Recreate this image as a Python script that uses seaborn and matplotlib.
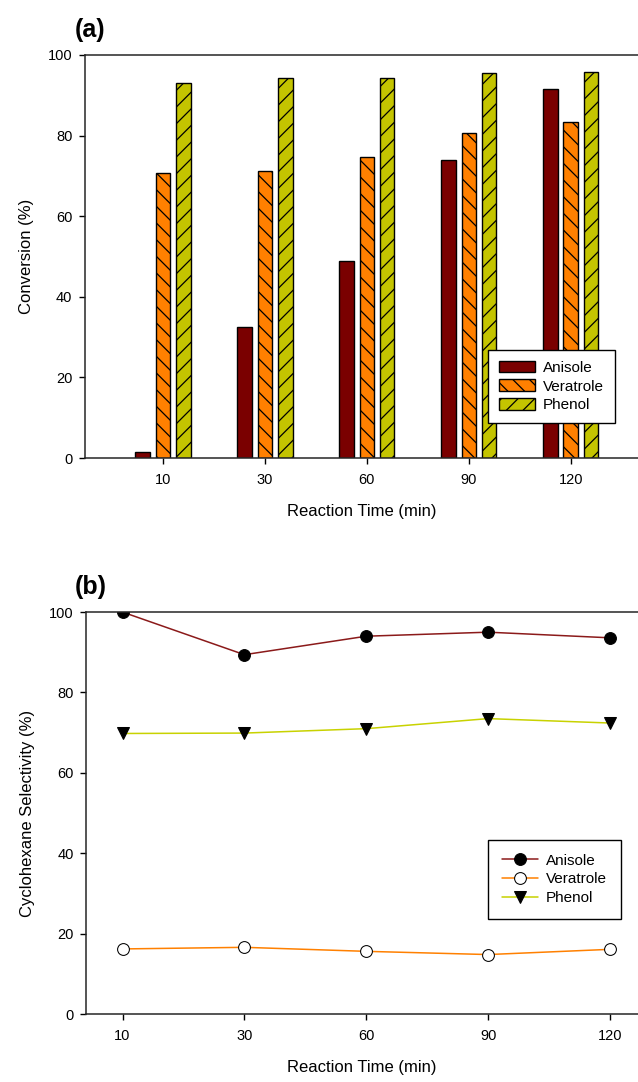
import matplotlib
matplotlib.use("Agg")
import matplotlib.pyplot as plt
import seaborn as sns
import pandas as pd

# data
times = ["10", "30", "60", "90", "120"]
species = ["Anisole", "Veratrole", "Phenol"]

conv_anisole = [1.5, 32.5, 49.0, 74.0, 91.5]
conv_veratrole = [70.8, 71.2, 74.6, 80.7, 83.3]
conv_phenol = [93.0, 94.2, 94.4, 95.5, 95.7]

sel_anisole = [100.0, 89.4, 94.0, 95.0, 93.6]
sel_veratrole = [16.2, 16.6, 15.6, 14.8, 16.1]
sel_phenol = [69.8, 69.9, 71.0, 73.5, 72.4]

bar_colors = ["#7a0000", "#ff8000", "#c4c400"]
line_colors = ["#8b1a1a", "#ff8000", "#c8d200"]
hatches = ["", "\\\\", "//"]

sns.set_style("ticks")
plt.rcParams["font.family"] = ["Liberation Sans", "DejaVu Sans"]
plt.rcParams["hatch.linewidth"] = 0.9
plt.rcParams["axes.linewidth"] = 1.1
plt.rcParams["text.color"] = "black"
plt.rcParams["axes.labelcolor"] = "black"
plt.rcParams["xtick.color"] = "black"
plt.rcParams["ytick.color"] = "black"

fig = plt.figure(figsize=(6.38, 10.82), dpi=100)
ax1 = fig.add_axes([0.1332, 0.5767, 0.8668, 0.3725])
ax2 = fig.add_axes([0.1348, 0.0628, 0.8652, 0.3715])

# (a) conversion bars
df_conv = pd.DataFrame({
    "time": times * 3,
    "species": [s for s in species for _ in times],
    "value": conv_anisole + conv_veratrole + conv_phenol,
})
sns.barplot(data=df_conv, x="time", y="value", hue="species", order=times,
            hue_order=species, palette=bar_colors, width=0.6, gap=0.29,
            edgecolor="black", linewidth=1.0, saturation=1, ax=ax1)
for cont, h in zip(ax1.containers, hatches):
    for p in cont:
        p.set_hatch(h)

ax1.set_xlim(-0.765, 4.66)
ax1.set_ylim(0, 100)
ax1.set_yticks([0, 20, 40, 60, 80, 100])
ax1.set_xlabel("Reaction Time (min)", fontsize=12, labelpad=12)
ax1.set_ylabel("Conversion (%)", fontsize=12, labelpad=10)
leg1 = ax1.legend(loc="upper left", bbox_to_anchor=(0.7288, 0.268),
                  borderaxespad=0, fontsize=11, frameon=True, fancybox=False,
                  framealpha=1, edgecolor="black", handlelength=2.4,
                  handleheight=0.8, labelspacing=0.3, borderpad=0.7,
                  handletextpad=0.5)
leg1.get_frame().set_linewidth(1.0)
for hp, h in zip(leg1.legend_handles, hatches):
    hp.set_hatch(h)

# (b) selectivity lines
x_pos = list(range(len(times)))
sns.lineplot(x=x_pos, y=sel_anisole, color=line_colors[0], marker="o",
             markersize=8.5, markerfacecolor="black", markeredgecolor="black",
             linewidth=1.1, label="Anisole", ax=ax2)
sns.lineplot(x=x_pos, y=sel_veratrole, color=line_colors[1], marker="o",
             markersize=8.5, markerfacecolor="white", markeredgecolor="black",
             linewidth=1.1, label="Veratrole", ax=ax2)
sns.lineplot(x=x_pos, y=sel_phenol, color=line_colors[2], marker="v",
             markersize=8, markerfacecolor="black", markeredgecolor="black",
             linewidth=1.1, label="Phenol", ax=ax2)

ax2.set_xlim(-0.30, 4.23)
ax2.set_ylim(0, 100)
ax2.set_yticks([0, 20, 40, 60, 80, 100])
ax2.set_xticks(x_pos)
ax2.set_xticklabels(times)
ax2.set_xlabel("Reaction Time (min)", fontsize=12, labelpad=12)
ax2.set_ylabel("Cyclohexane Selectivity (%)", fontsize=12, labelpad=10)
leg2 = ax2.legend(loc="upper left", bbox_to_anchor=(0.7283, 0.4328),
                  borderaxespad=0, fontsize=11, frameon=True, fancybox=False,
                  framealpha=1, edgecolor="black", handlelength=2.4,
                  labelspacing=0.3, borderpad=0.9, handletextpad=0.5)
leg2.get_frame().set_linewidth(1.0)

for ax in (ax1, ax2):
    ax.spines["right"].set_visible(False)
    ax.spines["top"].set_visible(True)
    ax.tick_params(axis="both", direction="out", length=4, width=1,
                   labelsize=10.5, color="black")
    ax.tick_params(axis="x", pad=7)
    ax.tick_params(axis="y", pad=5)
    ax.set_facecolor("white")

fig.text(0.1176, 0.972, "(a)", fontsize=18, fontweight="bold", va="center")
fig.text(0.1176, 0.4575, "(b)", fontsize=18, fontweight="bold", va="center")

fig.savefig("out.png", dpi=100, facecolor="white")
